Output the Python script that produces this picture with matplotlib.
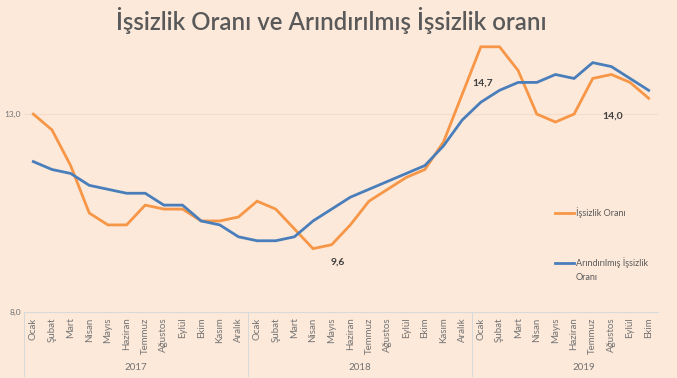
import matplotlib
matplotlib.use("Agg")
import matplotlib.pyplot as plt
from matplotlib.lines import Line2D
import matplotlib.transforms as mtransforms

months = ["Ocak", "Şubat", "Mart", "Nisan", "Mayıs", "Haziran", "Temmuz",
          "Ağustos", "Eylül", "Ekim", "Kasım", "Aralık"]
years = ["2017", "2018", "2019"]
months_per_year = [12, 12, 10]

issizlik = [13.0, 12.6, 11.7, 10.5, 10.2, 10.2, 10.7, 10.6, 10.6, 10.3, 10.3, 10.4,
            10.8, 10.6, 10.1, 9.6, 9.7, 10.2, 10.8, 11.1, 11.4, 11.6, 12.3, 13.5,
            14.7, 14.7, 14.1, 13.0, 12.8, 13.0, 13.9, 14.0, 13.8, 13.4]
arindirilmis = [11.8, 11.6, 11.5, 11.2, 11.1, 11.0, 11.0, 10.7, 10.7, 10.3, 10.2, 9.9,
                9.8, 9.8, 9.9, 10.3, 10.6, 10.9, 11.1, 11.3, 11.5, 11.7, 12.2, 12.85,
                13.3, 13.6, 13.8, 13.8, 14.0, 13.9, 14.3, 14.2, 13.9, 13.6]

labels = []
for y, n in zip(years, months_per_year):
    labels += months[:n]

annot_idx = [15, 24, 31]
annot_txt = ["9,6", "14,7", "14,0"]
annot_off = [(18, -10), (1.5, -26), (0.7, -30)]

BG = "#FCE9DA"
GRAY = "#595959"
LIGHTGRAY = "#737373"
ORANGE = "#F79646"
BLUE = "#4A7EBB"
FONT = ["Lato", "DejaVu Sans"]

plt.rcParams['font.family'] = FONT

fig = plt.figure(figsize=(6.77, 3.78), dpi=100, facecolor=BG)
W, H = 677, 378
ax = fig.add_axes([24 / W, 1 - 312 / H, 634 / W, (312 - 27) / H])
ax.set_facecolor(BG)

x = list(range(len(issizlik)))
ax.plot(x, issizlik, color=ORANGE, lw=2.0, solid_joinstyle="miter")
ax.plot(x, arindirilmis, color=BLUE, lw=2.0, solid_joinstyle="miter")

ax.set_xlim(-0.5, len(x) - 0.5)
ax.set_ylim(8, 15.2)
ax.set_yticks([8, 13])
ax.set_yticklabels(["8,0", "13,0"], fontsize=6, color=LIGHTGRAY)
ax.axhline(13, color="#F3DCCB", lw=0.8, zorder=0)

for s in ["top", "right", "left"]:
    ax.spines[s].set_visible(False)
ax.spines["bottom"].set_color("#D9D9D9")
ax.spines["bottom"].set_linewidth(0.8)
ax.tick_params(axis="y", length=0, pad=2)
ax.tick_params(axis="x", length=0, pad=4)

ax.set_xticks(x)
ax.set_xticklabels(labels, rotation=90, fontsize=7, color=LIGHTGRAY, va="top", ha="center")

# year groups
trans = mtransforms.blended_transform_factory(ax.transData, fig.transFigure)
start = 0
for y, n in zip(years, months_per_year):
    ax.add_line(Line2D([start - 0.5, start - 0.5], [1 - 312 / H, 1 - 376 / H],
                       transform=trans, color="#D9D9D9", lw=0.8, clip_on=False))
    ax.text(start + 5.5, 1 - 368 / H, y, transform=trans, ha="center", va="center",
            fontsize=7, color=LIGHTGRAY)
    start += n

for i, t, off in zip(annot_idx, annot_txt, annot_off):
    ax.annotate(t, xy=(i, issizlik[i]), xytext=off, textcoords="offset points",
                ha="center", va="center", fontsize=7.5, color="#404040", fontweight="bold")

# legend (manual)
fig.add_artist(Line2D([555 / W, 574 / W], [1 - 213 / H, 1 - 213 / H], color=ORANGE, lw=2.0))
fig.text(576 / W, 1 - 213 / H, "İşsizlik Oranı", fontsize=6.5, color=GRAY, va="center", ha="left")
fig.add_artist(Line2D([555 / W, 574 / W], [1 - 263 / H, 1 - 263 / H], color=BLUE, lw=2.0))
fig.text(576 / W, 1 - 263 / H, "Arındırılmış İşsizlik", fontsize=6.5, color=GRAY, va="center", ha="left")
fig.text(576 / W, 1 - 277 / H, "Oranı", fontsize=6.5, color=GRAY, va="center", ha="left")

fig.text(331 / W, 1 - 20 / H, "İşsizlik Oranı ve Arındırılmış İşsizlik oranı",
         fontsize=17.3, fontweight="semibold", color=GRAY, ha="center", va="center")

fig.savefig("out.png", dpi=100, facecolor=BG)
